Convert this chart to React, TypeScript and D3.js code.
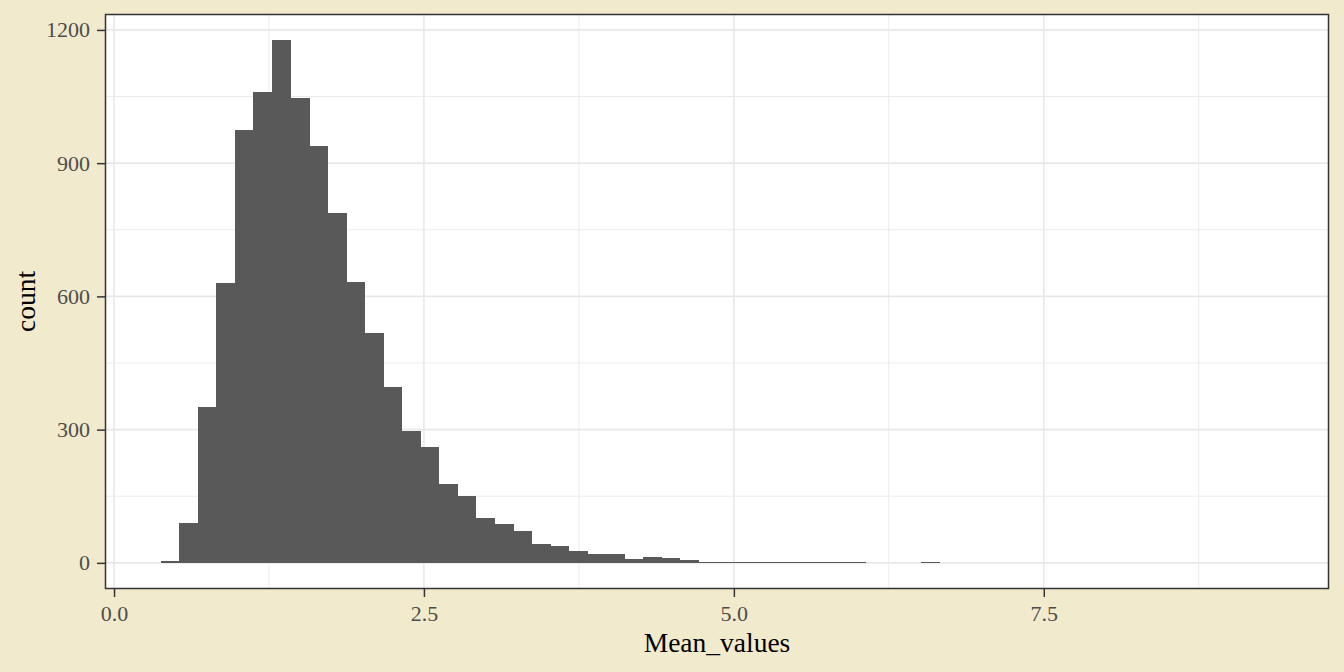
import * as d3 from "d3"
import { useEffect, useRef } from "react"

const BG_COLOR = "#f2eacc"
const BAR_COLOR = "#595959"
const FONT = "'Liberation Serif', 'Times New Roman', serif"

const W = 1344
const H = 672
const panel = { left: 105, right: 1329, top: 14, bottom: 589 }

// histogram bins (60 bins, equal width)
const binStart = 0.376
const binWidth = 0.1496
const counts = [
  5, 90, 350, 631, 975, 1060, 1177, 1047, 939, 788,
  633, 518, 397, 298, 262, 178, 151, 101, 87, 72,
  42, 37, 26, 19, 19, 9, 13, 11, 6, 3,
  2, 2, 2, 2, 1, 2, 1, 2, 0, 0,
  0, 2, 0, 0, 0, 0, 0, 0, 0, 0,
  0, 0, 0, 0, 0, 0, 0, 0, 0, 0,
]

const xTicks = [0, 2.5, 5, 7.5]
const xMinor = [1.25, 3.75, 6.25, 8.75]
const yTicks = [0, 300, 600, 900, 1200]
const yMinor = [150, 450, 750, 1050]

export default function App() {
  const svgRef = useRef<SVGSVGElement | null>(null)

  useEffect(() => {
    if (!svgRef.current) return
    const svg = d3.select(svgRef.current)
    svg.selectAll("*").remove()

    const bins = counts.map((c, i) => ({
      x0: binStart + i * binWidth,
      x1: binStart + (i + 1) * binWidth,
      count: c,
    }))

    // ggplot style 5% expansion
    const xLo = bins[0].x0
    const xHi = bins[bins.length - 1].x1
    const xPad = (xHi - xLo) * 0.05
    const yMax = d3.max(counts) as number
    const yPad = yMax * 0.05

    const x = d3.scaleLinear().domain([xLo - xPad, xHi + xPad]).range([panel.left, panel.right])
    const y = d3.scaleLinear().domain([-yPad, yMax + yPad]).range([panel.bottom, panel.top])

    svg.append("rect").attr("width", W).attr("height", H).attr("fill", BG_COLOR)

    svg
      .append("rect")
      .attr("x", panel.left)
      .attr("y", panel.top)
      .attr("width", panel.right - panel.left)
      .attr("height", panel.bottom - panel.top)
      .attr("fill", "#fff")

    // Grid lines
    const grid = svg.append("g")
    grid
      .selectAll(".xminor")
      .data(xMinor)
      .enter()
      .append("line")
      .attr("x1", (d) => x(d))
      .attr("x2", (d) => x(d))
      .attr("y1", panel.top)
      .attr("y2", panel.bottom)
      .attr("stroke", "#ebebeb")
      .attr("stroke-width", 1)
    grid
      .selectAll(".yminor")
      .data(yMinor)
      .enter()
      .append("line")
      .attr("x1", panel.left)
      .attr("x2", panel.right)
      .attr("y1", (d) => y(d))
      .attr("y2", (d) => y(d))
      .attr("stroke", "#ebebeb")
      .attr("stroke-width", 1)
    grid
      .selectAll(".xmajor")
      .data(xTicks)
      .enter()
      .append("line")
      .attr("x1", (d) => x(d))
      .attr("x2", (d) => x(d))
      .attr("y1", panel.top)
      .attr("y2", panel.bottom)
      .attr("stroke", "#e8e8e8")
      .attr("stroke-width", 1.6)
    grid
      .selectAll(".ymajor")
      .data(yTicks)
      .enter()
      .append("line")
      .attr("x1", panel.left)
      .attr("x2", panel.right)
      .attr("y1", (d) => y(d))
      .attr("y2", (d) => y(d))
      .attr("stroke", "#e8e8e8")
      .attr("stroke-width", 1.6)

    // Bars
    svg
      .append("g")
      .attr("shape-rendering", "crispEdges")
      .selectAll("rect")
      .data(bins.filter((b) => b.count > 0))
      .enter()
      .append("rect")
      .attr("x", (d) => x(d.x0))
      .attr("width", (d) => x(d.x1) - x(d.x0) + 0.5)
      .attr("y", (d) => y(d.count))
      .attr("height", (d) => y(0) - y(d.count))
      .attr("fill", BAR_COLOR)

    // Panel border
    svg
      .append("rect")
      .attr("x", panel.left + 0.5)
      .attr("y", panel.top + 0.5)
      .attr("width", panel.right - panel.left - 1)
      .attr("height", panel.bottom - panel.top - 1)
      .attr("fill", "none")
      .attr("stroke", "#333")
      .attr("stroke-width", 1.5)

    // Axes
    const xAxis = svg
      .append("g")
      .attr("transform", `translate(0,${panel.bottom})`)
      .call(
        d3
          .axisBottom(x)
          .tickValues(xTicks)
          .tickSize(8)
          .tickPadding(8)
          .tickFormat(d3.format(".1f")),
      )
    const yAxis = svg
      .append("g")
      .attr("transform", `translate(${panel.left},0)`)
      .call(d3.axisLeft(y).tickValues(yTicks).tickSize(8).tickPadding(7).tickFormat(d3.format("d")))

    ;[xAxis, yAxis].forEach((g) => {
      g.select(".domain").remove()
      g.selectAll(".tick line").attr("stroke", "#333").attr("stroke-width", 1.5)
      g.selectAll(".tick text")
        .attr("fill", "#4d4d4d")
        .style("font-family", FONT)
        .style("font-size", "22px")
    })

    // Axis titles
    svg
      .append("text")
      .attr("x", (panel.left + panel.right) / 2)
      .attr("y", 651.5)
      .attr("text-anchor", "middle")
      .text("Mean_values")
      .style("font-family", FONT)
      .style("font-size", "27.5px")
      .style("fill", "#000")

    svg
      .append("text")
      .attr("transform", `translate(35,${(panel.top + panel.bottom) / 2}) rotate(-90)`)
      .attr("text-anchor", "middle")
      .text("count")
      .style("font-family", FONT)
      .style("font-size", "27.5px")
      .style("fill", "#000")
  }, [])

  return (
    <svg
      ref={svgRef}
      width={W}
      height={H}
      style={{ position: "absolute", left: 0, top: 0, display: "block" }}
      xmlns="http://www.w3.org/2000/svg"
    />
  )
}
